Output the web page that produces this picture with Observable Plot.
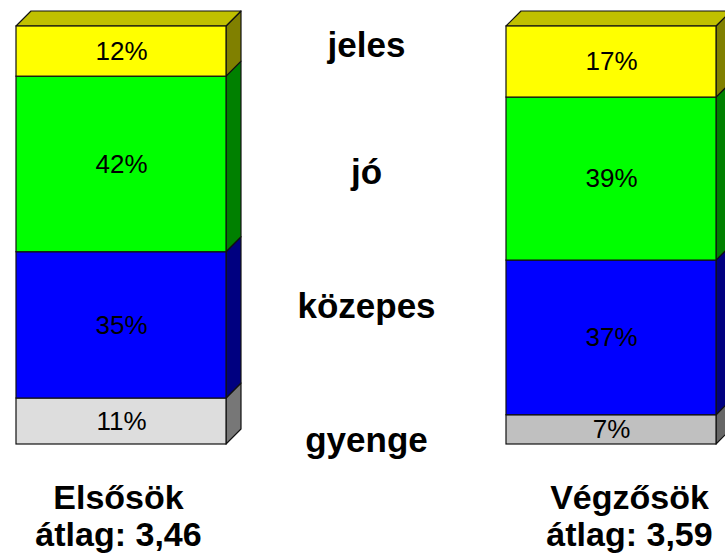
<!DOCTYPE html>
<html><head><meta charset="utf-8">
<script src="https://cdn.jsdelivr.net/npm/d3@7"></script>
<script src="https://cdn.jsdelivr.net/npm/@observablehq/plot@0.6"></script>
<style>body{margin:0;background:#fff;}</style>
</head><body><div id="chart"></div>
<script>
// ---- data ----
const groups = ["Elsősök", "Végzősök"];
const averages = ["3,46", "3,59"];
const grades = ["gyenge", "közepes", "jó", "jeles"];
const elsosok = [11, 35, 42, 12];
const vegzosok = [7, 37, 39, 17];
const gradeLabelLevels = [1, 33, 65, 95.5]; // where grade names sit (in % units)
const MID = "·"; // middle column holding the grade names

// ---- styles ----
const frontColors = {
  "Elsősök": {gyenge: "#dddddd", "közepes": "#0000ff", "jó": "#00ff00", jeles: "#ffff00"},
  "Végzősök": {gyenge: "#c0c0c0", "közepes": "#0000ff", "jó": "#00ff00", jeles: "#ffff00"}
};
const sideColors = {"#dddddd": "#777777", "#c0c0c0": "#666666", "#0000ff": "#000080", "#00ff00": "#008000", "#ffff00": "#808000"};
const topColors = {"#ffff00": "#c0c000"};
const DEPTH = 15;

const table = [];
groups.forEach((g, gi) => {
  const vals = gi === 0 ? elsosok : vegzosok;
  grades.forEach((c, ci) => table.push({group: g, grade: c, value: vals[ci]}));
});

const font = "'Liberation Sans', Arial, Helvetica, sans-serif";

const plot = Plot.plot({
  width: 725,
  height: 558,
  marginTop: 26,
  marginBottom: 114,
  marginLeft: 15,
  marginRight: 9,
  style: {fontFamily: font, background: "#fff", overflow: "visible"},
  x: {domain: [groups[0], MID, groups[1]], paddingInner: 0.1446, paddingOuter: 0, axis: null},
  y: {domain: [0, 100], axis: null},
  marks: [
    Plot.barY(table, {
      x: "group", y: "value",
      fill: d => frontColors[d.group][d.grade],
      stroke: "#111", strokeWidth: 1.2
    }),
    Plot.text(table, Plot.stackY({
      x: "group", y: "value",
      text: d => d.value + "%",
      fontSize: 26, fill: "#000"
    })),
    Plot.text(grades, {
      x: () => MID, y: (d, i) => gradeLabelLevels[i],
      text: d => d, fontSize: 35, fontWeight: "bold", fill: "#000"
    }),
    Plot.text([0], {
      x: () => groups[0], frameAnchor: "bottom",
      text: () => `${groups[0]}\nátlag: ${averages[0]}`,
      lineAnchor: "top", dy: 38, dx: -3, lineHeight: 1.1,
      fontSize: 34, fontWeight: "bold", fill: "#000"
    }),
    Plot.text([1], {
      x: () => groups[1], frameAnchor: "bottom",
      text: () => `${groups[1]}\nátlag: ${averages[1]}`,
      lineAnchor: "top", dy: 38, dx: 18, lineHeight: 1.1,
      fontSize: 34, fontWeight: "bold", fill: "#000"
    })
  ]
});

document.getElementById("chart").appendChild(plot);

// ---- 3D side and top faces derived from the rendered bars ----
const svg = d3.select(plot);
const barG = svg.select('g[aria-label="bar"]');
const rects = barG.selectAll("rect").nodes().map(r => ({
  x: +r.getAttribute("x"), y: +r.getAttribute("y"),
  w: +r.getAttribute("width"), h: +r.getAttribute("height"),
  fill: r.getAttribute("fill")
}));
const faces = svg.insert("g", 'g[aria-label="bar"]').attr("stroke", "#111").attr("stroke-width", 1.2).attr("stroke-linejoin", "round");
const topByX = d3.rollup(rects, v => d3.min(v, d => d.y), d => d.x);
rects.forEach(r => {
  const x2 = r.x + r.w, y1 = r.y, y2 = r.y + r.h;
  faces.append("polygon")
    .attr("points", [[x2, y1], [x2 + DEPTH, y1 - DEPTH], [x2 + DEPTH, y2 - DEPTH], [x2, y2]].map(p => p.join(",")).join(" "))
    .attr("fill", sideColors[r.fill] || "#555");
  if (r.y === topByX.get(r.x)) {
    faces.append("polygon")
      .attr("points", [[r.x, y1], [r.x + DEPTH, y1 - DEPTH], [x2 + DEPTH, y1 - DEPTH], [x2, y1]].map(p => p.join(",")).join(" "))
      .attr("fill", topColors[r.fill] || "#888");
  }
});
</script>
</body></html>
